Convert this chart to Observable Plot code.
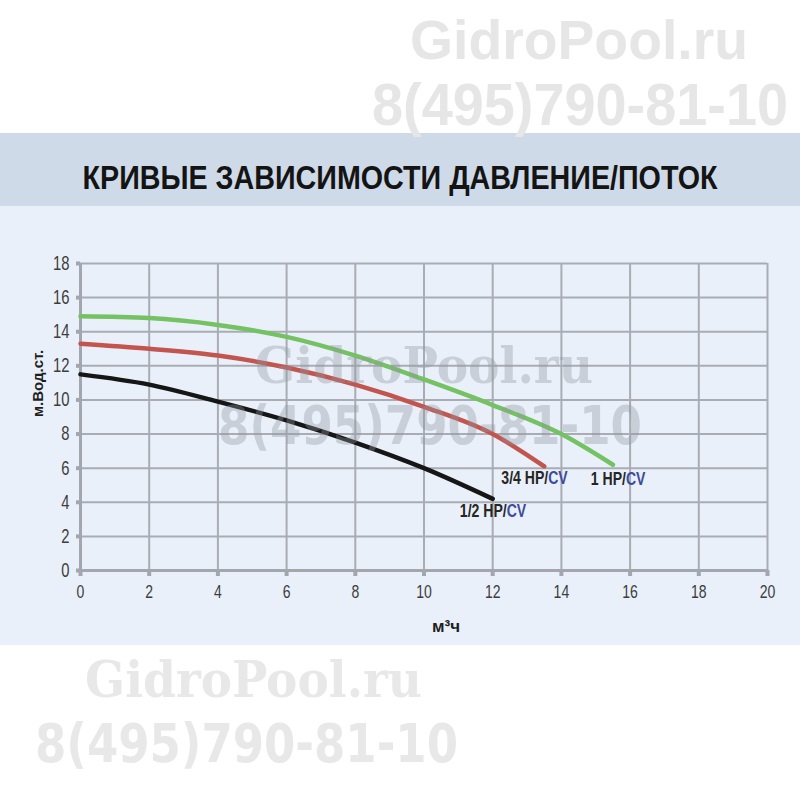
<!DOCTYPE html>
<html><head><meta charset="utf-8">
<script src="https://cdn.jsdelivr.net/npm/d3@7"></script>
<script src="https://cdn.jsdelivr.net/npm/@observablehq/plot@0.6"></script>
<style>
body{margin:0;background:#fff;}
#page{position:relative;width:800px;height:800px;overflow:hidden;background:#fff;}
#band{position:absolute;left:0;top:133px;width:800px;height:73px;background:#cfdae8;}
#chart{position:absolute;left:0;top:206px;}
#overlay{position:absolute;left:0;top:0;pointer-events:none;}
</style></head>
<body>
<div id="page">
  <div id="band">
    <svg width="800" height="73">
      <text x="400" y="56" text-anchor="middle" textLength="635" lengthAdjust="spacingAndGlyphs"
        style="font-family:'Liberation Sans','DejaVu Sans',sans-serif;font-weight:bold;font-size:34px;fill:#141414">КРИВЫЕ ЗАВИСИМОСТИ ДАВЛЕНИЕ/ПОТОК</text>
    </svg>
  </div>
  <div id="chart"></div>
  <svg id="overlay" width="800" height="800">
    <g style="font-weight:bold">
      <text x="410" y="59" textLength="338" lengthAdjust="spacingAndGlyphs" style="font-family:'Liberation Sans',sans-serif;font-size:56px;fill:#e6e6e6">GidroPool.ru</text>
      <text x="372" y="125" textLength="416" lengthAdjust="spacingAndGlyphs" style="font-family:'Liberation Sans',sans-serif;font-size:60px;fill:#e6e6e6">8(495)790-81-10</text>
      <text x="255" y="383" textLength="338" lengthAdjust="spacingAndGlyphs" style="font-family:'DejaVu Serif',serif;font-size:50px;fill:#8f959e;fill-opacity:0.36">GidroPool.ru</text>
      <text x="218" y="444" textLength="424" lengthAdjust="spacingAndGlyphs" style="font-family:'DejaVu Sans',sans-serif;font-size:53px;fill:#8f959e;fill-opacity:0.36">8(495)790-81-10</text>
      <text x="85" y="697" textLength="337" lengthAdjust="spacingAndGlyphs" style="font-family:'DejaVu Serif',serif;font-size:50px;fill:#e8e8e8">GidroPool.ru</text>
      <text x="35" y="762" textLength="423" lengthAdjust="spacingAndGlyphs" style="font-family:'DejaVu Sans',sans-serif;font-size:53px;fill:#e8e8e8">8(495)790-81-10</text>
    </g>
  </svg>
</div>
<script>
// ---- data ----
const xTicks = [0, 2, 4, 6, 8, 10, 12, 14, 16, 18, 20];
const yTicks = [0, 2, 4, 6, 8, 10, 12, 14, 16, 18];
const seriesNames = ["1/2 HP", "3/4 HP", "1 HP"];
const labelSuffix = "CV";
const flowHalf = [0, 2, 4, 6, 8, 10, 12];
const headHalf = [11.5, 10.9, 9.9, 8.8, 7.5, 6.0, 4.2];
const flowThreeQuarter = [0, 2, 4, 6, 8, 10, 12, 13.5];
const headThreeQuarter = [13.3, 13.0, 12.6, 11.9, 10.9, 9.6, 8.0, 6.1];
const flowOne = [0, 2, 4, 6, 8, 10, 12, 14, 15.5];
const headOne = [14.9, 14.8, 14.4, 13.7, 12.6, 11.2, 9.7, 8.0, 6.2];
const xLabel = "м³ч";
const yLabel = "м.Вод.ст.";

// ---- styles ----
const colors = ["#161616", "#c3554f", "#74c263"];
const labelOffsets = [{dx: 14, dy: 18}, {dx: 4, dy: 18}, {dx: 13, dy: 20}];
const gridColor = "#a9adb3";
const tickFont = "'Liberation Sans','DejaVu Sans',sans-serif";

const table = [
  ...flowHalf.map((f, i) => ({series: seriesNames[0], flow: f, head: headHalf[i]})),
  ...flowThreeQuarter.map((f, i) => ({series: seriesNames[1], flow: f, head: headThreeQuarter[i]})),
  ...flowOne.map((f, i) => ({series: seriesNames[2], flow: f, head: headOne[i]}))
];

const labelMarks = seriesNames.flatMap((name, i) => {
  const rows = table.filter(d => d.series === name);
  const last = [rows[rows.length - 1]];
  const common = {x: "flow", y: "head", lineAnchor: "bottom", fontSize: 19, fontWeight: "bold", fontFamily: tickFont, dx: labelOffsets[i].dx, dy: labelOffsets[i].dy};
  return [
    Plot.text(last, {...common, text: d => d.series + "/", textAnchor: "end", fill: "#262626"}),
    Plot.text(last, {...common, text: () => labelSuffix, textAnchor: "start", fill: "#3e4b9c"})
  ];
});

const chart = Plot.plot({
  width: 800,
  height: 439,
  marginLeft: 80,
  marginRight: 33,
  marginTop: 57,
  marginBottom: 75,
  style: {background: "#e9f0f9", fontFamily: tickFont},
  x: {domain: [0, 20]},
  y: {domain: [0, 18]},
  color: {domain: seriesNames, range: colors},
  marks: [
    Plot.gridX(xTicks, {stroke: gridColor, strokeOpacity: 1, strokeWidth: 2}),
    Plot.gridY(yTicks, {stroke: gridColor, strokeOpacity: 1, strokeWidth: 2}),
    Plot.ruleX([0], {stroke: "#a3a7ad", strokeWidth: 3}),
    Plot.ruleY([0], {stroke: "#a3a7ad", strokeWidth: 3}),
    Plot.axisX(xTicks, {tickSize: 6, tickPadding: 8, stroke: "#a3a7ad", strokeWidth: 4, fill: "#3d3d3d", fontSize: 19, label: null}),
    Plot.axisY(yTicks, {tickSize: 4, tickPadding: 7, stroke: "#a3a7ad", strokeWidth: 4, fill: "#3d3d3d", fontSize: 20, label: null}),
    Plot.line(table, {x: "flow", y: "head", z: "series", stroke: "series", strokeWidth: 4.5, curve: "monotone-x"}),
    ...labelMarks,
    Plot.text([xLabel], {frameAnchor: "bottom", text: d => d, dx: 22, dy: 61, fontSize: 17, fontWeight: "bold", fontFamily: "'Liberation Sans',sans-serif", fill: "#1e1e1e"}),
    Plot.text([yLabel], {frameAnchor: "left", text: d => d, rotate: -90, dx: -42, fontSize: 15, fontWeight: "bold", fontFamily: "'Liberation Sans',sans-serif", fill: "#1e1e1e"})
  ]
});
document.getElementById("chart").appendChild(chart);

// condense tick and curve labels (narrow font look)
chart.querySelectorAll("text").forEach(t => {
  const s = t.textContent;
  if (s === xLabel || s === yLabel) return;
  const w = t.getComputedTextLength();
  if (w > 0) {
    t.setAttribute("textLength", (w * 0.74).toFixed(1));
    t.setAttribute("lengthAdjust", "spacingAndGlyphs");
  }
});
</script>
</body></html>
